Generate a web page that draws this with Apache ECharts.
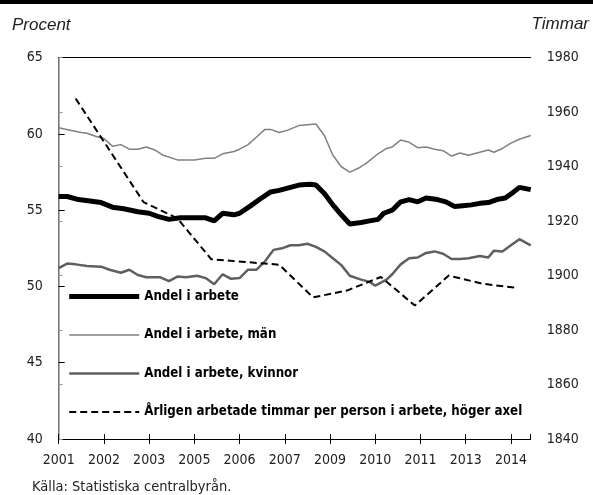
<!DOCTYPE html>
<html>
<head>
<meta charset="utf-8">
<script src="https://cdn.jsdelivr.net/npm/echarts@6/dist/echarts.min.js"></script>
<style>
  html, body { margin: 0; padding: 0; background: #fff; }
  #chart { width: 593px; height: 495px; }
</style>
</head>
<body>
<div id="chart"></div>
<script>
// months counted from Jan 2001
const tickLabels = ['2001', '2002', '2003', '2005', '2006', '2007', '2009', '2010', '2011', '2013', '2014'];

const totalMonths = [0, 3, 7, 11, 15, 19, 23, 28, 32, 35, 39, 43, 48, 52, 55, 58, 62, 64, 68, 71, 75, 78, 82, 85, 89, 91, 94, 97, 100, 103, 107, 110, 113, 115, 118, 121, 124, 127, 130, 134, 137, 140, 143, 146, 149, 152, 155, 158, 161, 163, 167];
const totalValues = [55.9, 55.9, 55.7, 55.6, 55.5, 55.2, 55.1, 54.9, 54.8, 54.6, 54.4, 54.5, 54.5, 54.5, 54.3, 54.8, 54.7, 54.8, 55.3, 55.7, 56.2, 56.3, 56.5, 56.65, 56.7, 56.65, 56.1, 55.35, 54.7, 54.1, 54.2, 54.3, 54.4, 54.8, 55.0, 55.55, 55.7, 55.55, 55.8, 55.7, 55.55, 55.25, 55.3, 55.35, 55.45, 55.5, 55.7, 55.8, 56.2, 56.5, 56.35];

const menMonths = [0, 4, 8, 10, 13, 16, 19, 22, 25, 28, 31, 34, 37, 42, 48, 52, 55, 58, 62, 64, 67, 70, 73, 75, 78, 81, 85, 88, 91, 94, 97, 100, 103, 106, 109, 113, 116, 118, 121, 124, 127, 130, 133, 136, 139, 142, 145, 148, 152, 154, 157, 160, 163, 167];
const menValues = [60.4, 60.25, 60.1, 60.05, 59.85, 59.7, 59.2, 59.3, 59.0, 59.0, 59.15, 58.95, 58.6, 58.3, 58.3, 58.4, 58.4, 58.7, 58.85, 59.0, 59.3, 59.8, 60.3, 60.3, 60.1, 60.25, 60.55, 60.6, 60.65, 59.9, 58.6, 57.85, 57.5, 57.75, 58.1, 58.7, 59.05, 59.15, 59.6, 59.45, 59.1, 59.15, 59.0, 58.9, 58.55, 58.75, 58.6, 58.75, 58.95, 58.8, 59.05, 59.4, 59.65, 59.9];

const womenMonths = [0, 3, 6, 10, 15, 18, 22, 25, 28, 31, 36, 39, 42, 45, 49, 52, 55, 58, 61, 64, 67, 70, 73, 76, 79, 82, 85, 88, 91, 94, 97, 100, 103, 107, 110, 112, 116, 118, 121, 124, 127, 130, 133, 136, 139, 142, 145, 149, 152, 154, 157, 160, 163, 167];
const womenValues = [51.2, 51.5, 51.45, 51.35, 51.3, 51.1, 50.9, 51.1, 50.75, 50.6, 50.6, 50.35, 50.65, 50.6, 50.7, 50.55, 50.15, 50.8, 50.5, 50.55, 51.1, 51.1, 51.65, 52.4, 52.5, 52.7, 52.7, 52.8, 52.6, 52.3, 51.85, 51.4, 50.7, 50.45, 50.3, 50.05, 50.45, 50.8, 51.45, 51.85, 51.9, 52.2, 52.3, 52.15, 51.8, 51.8, 51.85, 52.0, 51.9, 52.35, 52.3, 52.7, 53.1, 52.7];

// annual values, placed mid-year
const hoursMonths = [6, 18, 30, 42, 54, 66, 78, 90, 102, 114, 126, 138, 150, 162];
const hoursValues = [1965, 1946, 1927, 1921, 1906, 1905, 1904, 1892, 1894.5, 1899.5, 1889, 1900, 1897, 1895.5];

const names = [
    'Andel i arbete',
    'Andel i arbete, män',
    'Andel i arbete, kvinnor',
    'Årligen arbetade timmar per person i arbete, höger axel'
];

const font = "'Liberation Sans Narrow', 'DejaVu Sans Condensed', 'Liberation Sans', sans-serif";

const zip = (xs, ys) => xs.map((x, i) => [x, ys[i]]);

const labelStyle = {
    color: '#222',
    fontSize: 14,
    fontFamily: font
};

const chart = echarts.init(document.getElementById('chart'), null, { renderer: 'canvas' });

const option = {
    animation: false,
    grid: {
        left: 58.7,
        right: 62.3,
        top: 57.7,
        bottom: 56
    },
    graphic: [
        {
            type: 'rect',
            left: 0,
            top: 0,
            shape: { width: 593, height: 4 },
            style: { fill: '#000' }
        },
        {
            type: 'text',
            left: 12,
            top: 17,
            style: { text: 'Procent', fontSize: 17, fontStyle: 'italic', fontFamily: "'Liberation Sans', Arial, sans-serif", fill: '#222' }
        },
        {
            type: 'text',
            right: 4,
            top: 16,
            style: { text: 'Timmar', fontSize: 17, fontStyle: 'italic', fontFamily: "'Liberation Sans', Arial, sans-serif", fill: '#222' }
        },
        {
            type: 'text',
            left: 32,
            top: 480,
            style: { text: 'Källa: Statistiska centralbyrån.', fontSize: 14.5, fontFamily: font, fill: '#222' }
        }
    ],
    legend: {
        data: names,
        orient: 'vertical',
        left: 66.7,
        top: 290,
        padding: 0,
        itemWidth: 70,
        itemHeight: 16,
        itemGap: 25.5,
        textStyle: {
            color: '#000',
            fontSize: 13.2,
            fontWeight: 'bold',
            fontFamily: font
        },
        itemStyle: { opacity: 0 },
        lineStyle: { width: 'inherit', type: 'inherit', opacity: 1 }
    },
    xAxis: [
        {
            type: 'value',
            position: 'bottom',
            min: 0,
            max: 167,
            interval: 16,
            splitLine: { show: false },
            axisLine: { lineStyle: { color: '#000', width: 1 } },
            axisTick: { show: true, inside: false, length: 5, lineStyle: { color: '#000' } },
            axisLabel: Object.assign({}, labelStyle, {
                margin: 14,
                showMaxLabel: false,
                formatter: v => (v % 16 === 0 ? tickLabels[v / 16] : '')
            })
        },
        {
            type: 'value',
            position: 'bottom',
            min: 0,
            max: 167,
            interval: 16,
            splitLine: { show: false },
            axisLine: { show: false },
            axisTick: { show: true, inside: true, length: 5, lineStyle: { color: '#000' } },
            axisLabel: { show: false }
        },
        {
            type: 'value',
            position: 'top',
            min: 0,
            max: 167,
            splitLine: { show: false },
            axisLine: { show: true, lineStyle: { color: '#000', width: 1 } },
            axisTick: { show: false },
            axisLabel: { show: false }
        }
    ],
    yAxis: [
        {
            type: 'value',
            position: 'left',
            min: 40,
            max: 65,
            interval: 5,
            splitLine: { show: false },
            axisLine: { show: true, lineStyle: { color: '#000', width: 1 } },
            axisTick: { show: true, inside: true, length: 6, lineStyle: { color: '#000' } },
            axisLabel: Object.assign({}, labelStyle, { margin: 16 })
        },
        {
            type: 'value',
            position: 'right',
            min: 1840,
            max: 1980,
            interval: 20,
            splitLine: { show: false },
            axisLine: { show: true, lineStyle: { color: '#999', width: 1.5 } },
            axisTick: { show: true, inside: false, length: 4, lineStyle: { color: '#999' } },
            axisLabel: Object.assign({}, labelStyle, { margin: 16, formatter: v => String(v) })
        }
    ],
    series: [
        {
            name: names[1],
            type: 'line',
            data: zip(menMonths, menValues),
            symbol: 'none',
            lineStyle: { color: '#808080', width: 1.5 },
            itemStyle: { color: '#808080' }
        },
        {
            name: names[2],
            type: 'line',
            data: zip(womenMonths, womenValues),
            symbol: 'none',
            lineStyle: { color: '#5f5f5f', width: 2.5 },
            itemStyle: { color: '#5f5f5f' }
        },
        {
            name: names[3],
            type: 'line',
            yAxisIndex: 1,
            data: zip(hoursMonths, hoursValues),
            symbol: 'none',
            lineStyle: { color: '#000', width: 2, type: [7, 4] },
            itemStyle: { color: '#000' }
        },
        {
            name: names[0],
            type: 'line',
            data: zip(totalMonths, totalValues),
            symbol: 'none',
            lineStyle: { color: '#000', width: 5 },
            itemStyle: { color: '#000' }
        }
    ]
};

chart.setOption(option);
</script>
</body>
</html>
